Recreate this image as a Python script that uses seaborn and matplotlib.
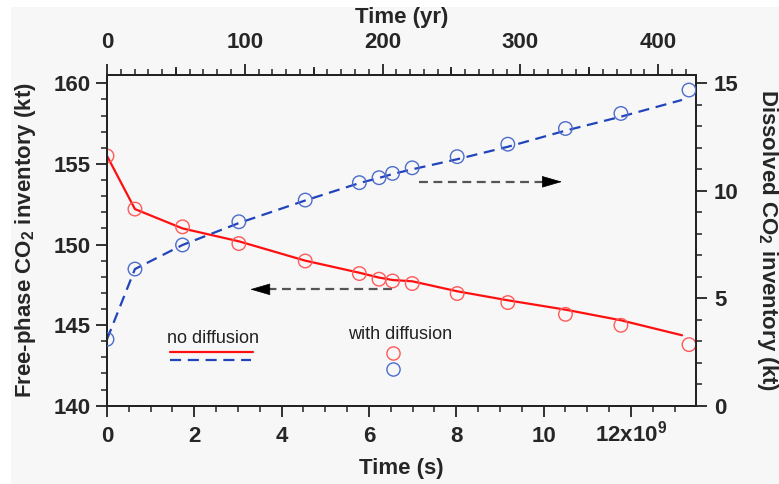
import numpy as np
import pandas as pd
import seaborn as sns
import matplotlib
matplotlib.use("Agg")
import matplotlib.pyplot as plt
from matplotlib.ticker import MultipleLocator, FixedLocator, FuncFormatter, NullFormatter
from matplotlib.patches import Rectangle

# ---------------- data ----------------
# time in units of 1e9 s
time_diff = [0, 0.64, 1.73, 3.02, 4.54, 5.78, 6.23, 6.54, 6.99, 8.02, 9.18, 10.50, 11.77, 13.33]
free_diff = [155.5, 152.2, 151.1, 150.06, 148.98, 148.2, 147.85, 147.74, 147.58, 146.96, 146.4, 145.67, 144.99, 143.79]
diss_diff = [3.09, 6.36, 7.48, 8.56, 9.57, 10.38, 10.61, 10.81, 11.07, 11.59, 12.17, 12.9, 13.6, 14.69]

time_nodiff = [0, 0.64, 1.73, 3.02, 4.54, 5.78, 6.23, 6.54, 6.99, 8.02, 9.18, 10.50, 11.77, 13.17]
free_nodiff = [155.5, 152.2, 151.0, 150.2, 149.0, 148.25, 147.95, 147.8, 147.72, 147.10, 146.54, 145.96, 145.30, 144.37]
diss_nodiff = [3.09, 6.36, 7.48, 8.5, 9.55, 10.36, 10.6, 10.78, 11.0, 11.47, 12.05, 12.8, 13.45, 14.23]

x_ticks = [0, 2, 4, 6, 8, 10, 12]
x_ticklabels = ["0", "2", "4", "6", "8", "10", r"12x10$^{\mathbf{9}}$"]
yr_ticks = [0, 100, 200, 300, 400]
SEC_PER_YR = 3.156e7

# ---------------- style ----------------
sns.set_theme(style="ticks")
plt.rcParams["font.family"] = ["Liberation Sans", "DejaVu Sans"]
plt.rcParams["mathtext.fontset"] = "custom"
plt.rcParams["mathtext.rm"] = "Liberation Sans"
plt.rcParams["mathtext.bf"] = "Liberation Sans:bold"
plt.rcParams["font.weight"] = "bold"

BG = "#f7f7f7"
RED_LINE = "#ff1010"
RED_MK = "#ff5a5a"
BLUE_LINE = "#2244bb"
BLUE_MK = "#4d6ccc"
FS = 16

fig = plt.figure(figsize=(7.79, 4.84), dpi=100)
fig.patch.set_facecolor("white")
fig.patches.append(Rectangle((11 / 779, 0), 1, 1 - 7 / 484, transform=fig.transFigure,
                             facecolor=BG, edgecolor="none", zorder=-10))

L, R, B, T = 107 / 779, 696 / 779, 1 - 405.7 / 484, 1 - 75 / 484
ax = fig.add_axes([L, B, R - L, T - B])
ax.set_facecolor(BG)
ax2 = ax.twinx()
ax2.set_facecolor("none")

# ---------------- marks ----------------
df_nd = pd.DataFrame({"t": time_nodiff, "free": free_nodiff, "diss": diss_nodiff})
df_d = pd.DataFrame({"t": time_diff, "free": free_diff, "diss": diss_diff})

sns.lineplot(data=df_nd, x="t", y="free", ax=ax, color=RED_LINE, lw=1.6, sort=False)
sns.scatterplot(data=df_d, x="t", y="free", ax=ax, s=95, facecolor="none",
                edgecolor=RED_MK, linewidth=1.0, zorder=3)

sns.lineplot(data=df_nd, x="t", y="diss", ax=ax2, color=BLUE_LINE, lw=1.6, sort=False,
             dashes=False)
ax2.lines[-1].set_linestyle((0, (5, 3)))
sns.scatterplot(data=df_d, x="t", y="diss", ax=ax2, s=95, facecolor="none",
                edgecolor=BLUE_MK, linewidth=1.0, zorder=3)

# ---------------- axes ----------------
ax.set_xlim(0, 13.49)
ax.set_ylim(140, 160.52)
ax2.set_ylim(0, 15.39)

ax.xaxis.set_major_locator(FixedLocator(x_ticks))
ax.xaxis.set_major_formatter(FuncFormatter(lambda v, p: x_ticklabels[x_ticks.index(int(round(v)))]))
ax.xaxis.set_minor_locator(MultipleLocator(0.5))
ax.yaxis.set_major_locator(MultipleLocator(5))
ax.yaxis.set_minor_locator(MultipleLocator(1))
ax2.yaxis.set_major_locator(MultipleLocator(5))
ax2.yaxis.set_minor_locator(MultipleLocator(1))

for a in (ax, ax2):
    for s in a.spines.values():
        s.set_linewidth(1.3)
        s.set_color("#222222")
    a.tick_params(which="major", length=8, width=1.3, color="#222222", labelsize=FS)
    a.tick_params(which="minor", length=4, width=1.1, color="#222222")
    for lab in a.get_xticklabels() + a.get_yticklabels():
        lab.set_fontweight("bold")
# baseline-aligned x tick labels so the "12x10^9" label lines up with the others
ax.tick_params(axis="x", which="major", pad=18)
for lab in ax.get_xticklabels():
    lab.set_verticalalignment("baseline")
ax.tick_params(axis="y", which="major", pad=4)
ax2.tick_params(axis="y", which="major", pad=5)
ax.set_xlabel("Time (s)", fontsize=FS, fontweight="bold", labelpad=8)
ax.set_ylabel(r"Free-phase CO$_{\mathbf{2}}$ inventory (kt)", fontsize=FS, fontweight="bold", labelpad=11)
ax2.set_ylabel(r"Dissolved CO$_{\mathbf{2}}$ inventory (kt)", fontsize=FS, fontweight="bold",
               labelpad=12, rotation=270, va="bottom")

def s2yr(x):
    return np.asarray(x) * 1e9 / SEC_PER_YR

def yr2s(y):
    return np.asarray(y) * SEC_PER_YR / 1e9

top = ax.secondary_xaxis("top", functions=(s2yr, yr2s))
top.xaxis.set_major_locator(FixedLocator(yr_ticks))
top.xaxis.set_minor_locator(MultipleLocator(10))
top.tick_params(which="major", length=8, width=1.3, color="#222222", labelsize=FS, pad=8)
top.tick_params(which="minor", length=4, width=1.1, color="#222222")
top.spines["top"].set_linewidth(1.3)
for lab in top.get_xticklabels():
    lab.set_fontweight("bold")
top.set_xlabel("Time (yr)", fontsize=FS, fontweight="bold", labelpad=6)

top2 = ax.secondary_xaxis("top", functions=(s2yr, yr2s))
top2.xaxis.set_major_locator(FixedLocator([50, 150, 250, 350]))
top2.xaxis.set_major_formatter(NullFormatter())
top2.xaxis.set_minor_locator(FixedLocator([]))
top2.tick_params(which="major", length=6, width=1.3, color="#222222")
top2.spines["top"].set_visible(False)

# ---------------- arrows ----------------
arrow_style = "-|>,head_length=1.1,head_width=0.32"
ax.plot([6.53, 3.6], [147.22, 147.22], ls=(0, (4, 2.5)), color="#555555", lw=1.6)
ax.annotate("", xy=(3.28, 147.22), xytext=(3.7, 147.22),
            arrowprops=dict(arrowstyle=arrow_style, color="black", lw=0.5, shrinkA=0, shrinkB=0))
ax2.plot([7.15, 10.1], [10.42, 10.42], ls=(0, (4, 2.5)), color="#555555", lw=1.6)
ax2.annotate("", xy=(10.42, 10.42), xytext=(10.0, 10.42),
             arrowprops=dict(arrowstyle=arrow_style, color="black", lw=0.5, shrinkA=0, shrinkB=0))

# ---------------- in-plot legend ----------------
ax.text(0.102, 0.2017, "no diffusion", transform=ax.transAxes, fontsize=13,
        fontweight="normal", color="#222222", va="center", ha="left")
ax.plot([0.107, 0.248], [0.163, 0.163], transform=ax.transAxes, color=RED_LINE, lw=1.6)
ax.plot([0.107, 0.245], [0.138, 0.138], transform=ax.transAxes, color=BLUE_LINE, lw=1.6,
        ls=(0, (5, 3)))
ax.text(0.4097, 0.214, "with diffusion", transform=ax.transAxes, fontsize=13,
        fontweight="normal", color="#222222", va="center", ha="left")
ax.plot([0.485], [0.158], transform=ax.transAxes, marker="o", ms=9.5, mfc="none",
        mec=RED_MK, mew=1.0, ls="none")
ax.plot([0.485], [0.111], transform=ax.transAxes, marker="o", ms=9.5, mfc="none",
        mec=BLUE_MK, mew=1.0, ls="none")

fig.savefig("out.png", dpi=100, facecolor=fig.get_facecolor())
